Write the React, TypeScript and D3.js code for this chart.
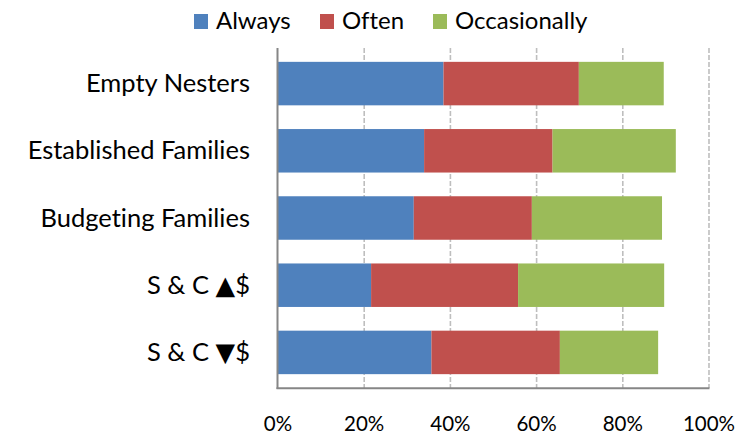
import React from "react";
import * as d3 from "d3";

// Share of respondents per segment, by frequency
const categories = [
  "Empty Nesters",
  "Established Families",
  "Budgeting Families",
  "S & C ▲$",
  "S & C ▼$",
];
const seriesNames = ["Always", "Often", "Occasionally"];
const always = [0.384, 0.339, 0.315, 0.216, 0.356];
const often = [0.314, 0.298, 0.274, 0.341, 0.298];
const occasionally = [0.197, 0.286, 0.302, 0.339, 0.228];
const tickValues = [0, 0.2, 0.4, 0.6, 0.8, 1.0];
const tickLabels = ["0%", "20%", "40%", "60%", "80%", "100%"];
const colors = ["#4F81BD", "#C0504D", "#9BBB59"];

const W = 751;
const H = 434;
const FONT = "Lato, 'DejaVu Sans', sans-serif";

export default function App() {
  const rows = categories.map((c, i) => ({
    category: c,
    Always: always[i],
    Often: often[i],
    Occasionally: occasionally[i],
  }));
  const stacked = d3.stack<any>().keys(seriesNames)(rows);

  const x = d3.scaleLinear().domain([0, 1]).range([278, 709]);
  const y = d3
    .scaleBand<string>()
    .domain(categories)
    .range([48, 388])
    .paddingInner(0.353)
    .paddingOuter(0.206);

  const legendX = [194, 320, 433];

  return (
    <svg
      width={W}
      height={H}
      style={{
        position: "absolute",
        left: 0,
        top: 0,
        background: "#fff",
        fontVariantLigatures: "none",
      }}
      fontFamily={FONT}
    >
      {/* legend */}
      {seriesNames.map((name, i) => (
        <g key={name}>
          <rect x={legendX[i]} y={14} width={14} height={15} fill={colors[i]} />
          <text x={legendX[i] + 22} y={29} fontSize={24} fill="#000">
            {name}
          </text>
        </g>
      ))}

      {/* vertical gridlines */}
      {tickValues.slice(1).map((t) => (
        <line
          key={t}
          x1={x(t)}
          x2={x(t)}
          y1={48}
          y2={388}
          stroke="#BEBEBE"
          strokeWidth={1.6}
          strokeDasharray="5,2"
        />
      ))}

      {/* stacked bars */}
      {stacked.map((layer, si) => (
        <g key={layer.key} fill={colors[si]}>
          {layer.map((d, i) => (
            <rect
              key={i}
              x={x(d[0])}
              y={y(categories[i])}
              width={x(d[1]) - x(d[0])}
              height={y.bandwidth()}
            />
          ))}
        </g>
      ))}

      {/* axes */}
      <line x1={277.5} x2={277.5} y1={48} y2={389} stroke="#868686" strokeWidth={2} />
      <line x1={276.5} x2={709.5} y1={388.3} y2={388.3} stroke="#868686" strokeWidth={2} />

      {/* category labels */}
      {categories.map((c) => (
        <text
          key={c}
          x={250}
          y={(y(c) as number) + y.bandwidth() / 2 + 8.5}
          textAnchor="end"
          fontSize={25.5}
          fill="#000"
        >
          {c}
        </text>
      ))}

      {/* tick labels */}
      {tickValues.map((t, i) => (
        <text key={t} x={x(t)} y={431} textAnchor="middle" fontSize={20.5} fill="#000">
          {tickLabels[i]}
        </text>
      ))}
    </svg>
  );
}
